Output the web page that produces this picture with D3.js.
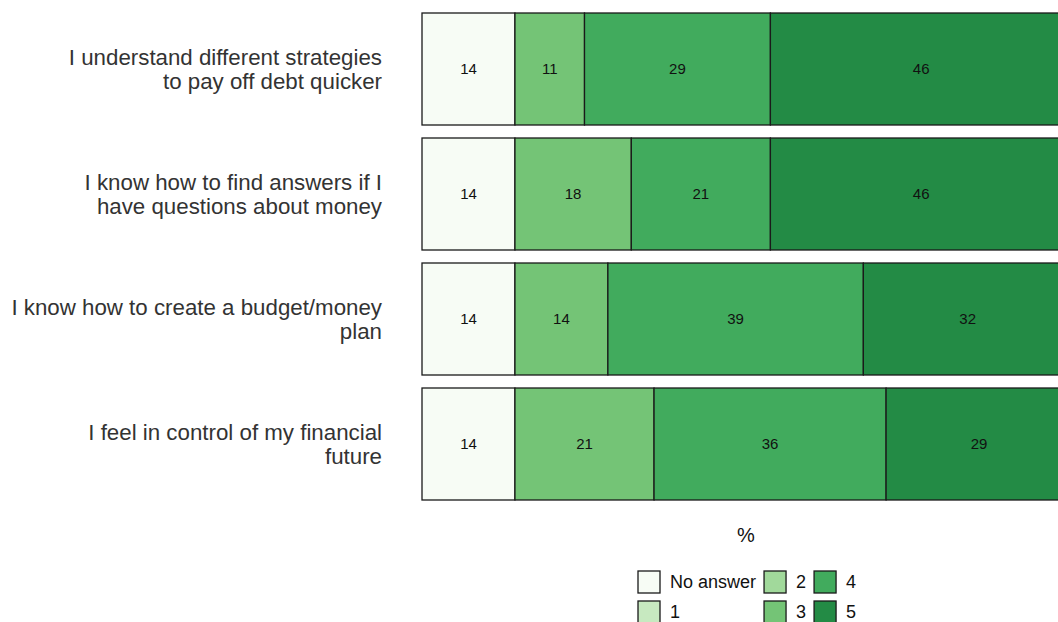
<!DOCTYPE html>
<html>
<head>
<meta charset="utf-8">
<script src="https://cdn.jsdelivr.net/npm/d3@7"></script>
<style>
  body { margin: 0; background: #fff; overflow: hidden; }
  svg { display: block; font-family: "Liberation Sans", Arial, sans-serif; }
</style>
</head>
<body>
<svg id="chart" width="1058" height="622"></svg>
<script>
// statements, top to bottom
const statements = [
  ["I understand different strategies", "to pay off debt quicker"],
  ["I know how to find answers if I", "have questions about money"],
  ["I know how to create a budget/money", "plan"],
  ["I feel in control of my financial", "future"]
];
const categories = ["No answer", "1", "2", "3", "4", "5"];
const colors = ["#f7fcf5", "#c7e9c0", "#a1d99b", "#74c476", "#41ab5d", "#238b45"];

// % per category, one array per category (rows in statement order)
// labels show the rounded value
const noAnswer = [14.3, 14.3, 14.3, 14.3];
const score1   = [0, 0, 0, 0];
const score2   = [0, 0, 0, 0];
const score3   = [10.7, 17.9, 14.3, 21.4];
const score4   = [28.6, 21.4, 39.3, 35.7];
const score5   = [46.4, 46.4, 32.1, 28.6];
const series = [noAnswer, score1, score2, score3, score4, score5];

const svg = d3.select("#chart");

const xScale = d3.scaleLinear().domain([0, 100]).range([422, 1072]);
const yScale = d3.scaleBand()
  .domain(d3.range(statements.length))
  .range([13, 500])
  .paddingInner(0.104)
  .paddingOuter(0);
const color = d3.scaleOrdinal().domain(categories).range(colors);

// flatten into segments
let segments = [];
statements.forEach((s, i) => {
  let start = 0;
  series.forEach((vals, c) => {
    const v = vals[i];
    if (v > 0) segments.push({row: i, cat: categories[c], x0: start, x1: start + v, v: v});
    start += v;
  });
});

const bars = svg.append("g");
bars.selectAll("rect")
  .data(segments)
  .enter()
  .append("rect")
  .attr("x", d => xScale(d.x0))
  .attr("y", d => yScale(d.row))
  .attr("width", d => xScale(d.x1) - xScale(d.x0))
  .attr("height", yScale.bandwidth())
  .attr("fill", d => color(d.cat))
  .attr("stroke", "#1a1a1a")
  .attr("stroke-width", 1.3);

bars.selectAll("text")
  .data(segments)
  .enter()
  .append("text")
  .attr("x", d => (xScale(d.x0) + xScale(d.x1)) / 2)
  .attr("y", d => yScale(d.row) + yScale.bandwidth() / 2)
  .attr("dy", "0.35em")
  .attr("text-anchor", "middle")
  .style("font-size", "15px")
  .style("fill", "#111")
  .text(d => Math.round(d.v));

// statement labels
const labels = svg.append("g");
statements.forEach((lines, i) => {
  const cy = yScale(i) + yScale.bandwidth() / 2;
  const t = labels.append("text")
    .attr("text-anchor", "end")
    .style("font-size", "22.3px")
    .style("fill", "#333");
  lines.forEach((ln, k) => {
    t.append("tspan")
      .attr("x", 382)
      .attr("y", cy + (k - (lines.length - 1) / 2) * 24)
      .attr("dy", "0.35em")
      .text(ln);
  });
});

// axis title
svg.append("text")
  .attr("x", 746)
  .attr("y", 535)
  .attr("dy", "0.35em")
  .attr("text-anchor", "middle")
  .style("font-size", "20px")
  .style("fill", "#111")
  .text("%");

// legend: 2 rows, filled column by column
const legend = svg.append("g");
const boxSize = 22, rowGap = 30, legX = 638, legY = 571;
let colX = legX;
for (let c = 0; c < Math.ceil(categories.length / 2); c++) {
  let maxW = 0;
  for (let r = 0; r < 2; r++) {
    const idx = c * 2 + r;
    if (idx >= categories.length) break;
    const y = legY + r * rowGap;
    legend.append("rect")
      .attr("x", colX).attr("y", y)
      .attr("width", boxSize).attr("height", boxSize)
      .attr("fill", colors[idx])
      .attr("stroke", "#1a1a1a")
      .attr("stroke-width", 1.3);
    const t = legend.append("text")
      .attr("x", colX + 32).attr("y", y + boxSize / 2)
      .attr("dy", "0.35em")
      .style("font-size", "18px")
      .style("fill", "#111")
      .text(categories[idx]);
    maxW = Math.max(maxW, t.node().getComputedTextLength());
  }
  colX += 32 + maxW + 8;
}
</script>
</body>
</html>
